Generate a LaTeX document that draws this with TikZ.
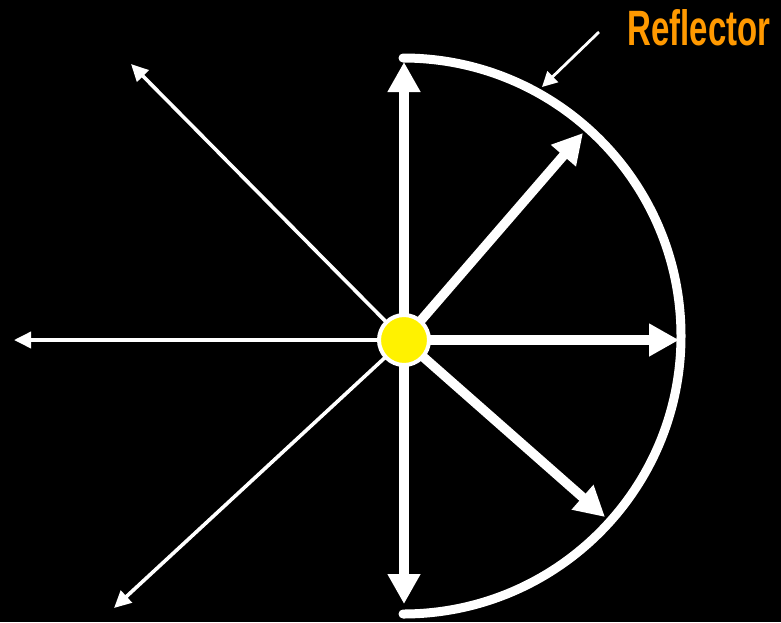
\documentclass[tikz,border=0pt]{standalone}
\usepackage{fontspec}
\usepackage{graphicx}
\setmainfont{Liberation Sans}
\usetikzlibrary{arrows.meta}
\definecolor{refl}{HTML}{FF9900}
\begin{document}
\begin{tikzpicture}[x=1pt,y=-1pt,
  thickarr/.style={white,line width=9.5pt,-{Triangle[length=30pt,width=31pt]}},
  thinarr/.style={white,line width=3.6pt,-{Triangle[length=17pt,width=16pt]}},
  labarr/.style={white,line width=2.8pt,-{Triangle[length=15pt,width=15pt]}},
  lamp/.style={circle,fill=yellow,draw=white,line width=4pt,minimum size=50pt,inner sep=0pt}]
\fill[black] (0,0) rectangle (781,622);
\useasboundingbox (0,0) rectangle (781,622);
\coordinate (c) at (404,340);
\coordinate (up) at (404,62);
\coordinate (ur) at (583,133);
\coordinate (rt) at (679,340);
\coordinate (lr) at (605,517);
\coordinate (dn) at (404,604);
\coordinate (ul) at (131,64);
\coordinate (lt) at (14,340);
\coordinate (ll) at (114,608);
\coordinate (rc) at (403,336);
\coordinate (la) at (599,32);
\coordinate (lb) at (542,87);
% reflector
\draw[white,line width=9pt,line cap=round] (rc) ++(0,-278) arc (-90:90:278);
% arrows
\draw[thickarr] (c) -- (up);
\draw[thickarr] (c) -- (ur);
\draw[thickarr] (c) -- (rt);
\draw[thickarr] (c) -- (lr);
\draw[thickarr] (c) -- (dn);
\draw[thinarr] (c) -- (ul);
\draw[thinarr] (c) -- (lt);
\draw[thinarr] (c) -- (ll);
\node[lamp] (src) at (c) {};
% label
\node[refl,inner sep=0pt] (lab) at (699,28) {\resizebox{143pt}{36pt}{\bfseries Reflector}};
\draw[labarr] (la) -- (lb);
\end{tikzpicture}
\end{document}
